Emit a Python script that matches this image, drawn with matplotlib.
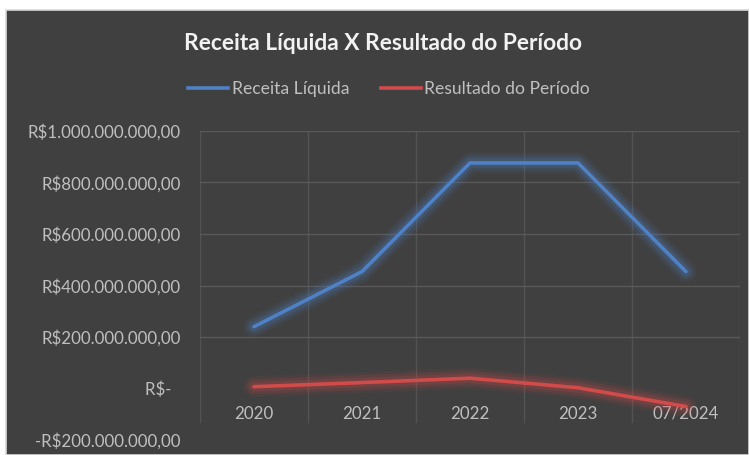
import matplotlib
matplotlib.use("Agg")
import matplotlib.pyplot as plt
from matplotlib.patches import Rectangle
from matplotlib.lines import Line2D
import numpy as np

categories = ["2020", "2021", "2022", "2023", "07/2024"]
receita_liquida = [240e6, 454e6, 876e6, 876e6, 454e6]
resultado_periodo = [7e6, 23e6, 40e6, 3e6, -70e6]
y_ticks = [-200e6, 0, 200e6, 400e6, 600e6, 800e6, 1000e6]
y_tick_labels = ["-R$200.000.000,00", "R$-  ", "R$200.000.000,00", "R$400.000.000,00",
                 "R$600.000.000,00", "R$800.000.000,00", "R$1.000.000.000,00"]
series_names = ["Receita Líquida", "Resultado do Período"]

plt.rcParams['font.family'] = ['Lato', 'DejaVu Sans']

BG = "#404040"
GRID = "#595959"
TXT = "#BFBFBF"
BLUE = "#4F81C7"
RED = "#D24B4B"

W, H = 749, 455
fig = plt.figure(figsize=(W / 100, H / 100), dpi=100)
fig.patch.set_facecolor("white")
fig.add_artist(Rectangle((6 / W, 0), (W - 6) / W, (H - 10) / H, transform=fig.transFigure,
                         facecolor=BG, edgecolor="#D9D9D9", linewidth=1.2, zorder=0))

ax = fig.add_axes([200 / W, 1 - 440 / H, 540 / W, (440 - 131) / H])
ax.set_facecolor("none")
x = np.arange(len(categories))
ax.set_xlim(-0.5, len(categories) - 0.5)
ax.set_ylim(-200e6, 1000e6)

# gridlines
for yv in y_ticks:
    if yv >= 200e6:
        ax.axhline(yv, color=GRID, lw=1.0, zorder=1)
for xb in np.arange(-0.5, len(categories), 1.0):
    ax.plot([xb, xb], [-130e6, 1000e6], color=GRID, lw=1.0, zorder=1, alpha=0.8)

for vals, col in [(receita_liquida, BLUE), (resultado_periodo, RED)]:
    for lw, a in [(15, 0.08), (11, 0.12), (7, 0.18)]:
        ax.plot(x, vals, color=col, lw=lw, alpha=a, solid_capstyle="round",
                solid_joinstyle="round", zorder=2)
    ax.plot(x, vals, color=col, lw=2.6, solid_capstyle="round", zorder=3)

for s in ax.spines.values():
    s.set_visible(False)
ax.spines['bottom'].set_position(('data', 0))
ax.set_xticks(x)
ax.set_xticklabels(categories, color=TXT, fontsize=12.2)
ax.tick_params(axis='x', length=0, pad=12.5)
ax.set_yticks(y_ticks)
ax.set_yticklabels(y_tick_labels, color=TXT, fontsize=12.2)
ax.tick_params(axis='y', length=0, pad=14)

fig.text(383 / W, 1 - 44 / H, "Receita Líquida X Resultado do Período", ha="center", va="center",
         fontsize=16.4, fontweight="bold", color="#F2F2F2")

handles = [Line2D([], [], color=BLUE, lw=2.6), Line2D([], [], color=RED, lw=2.6)]
fig.legend(handles, series_names, loc="center", bbox_to_anchor=(389 / W, 1 - 89 / H), ncol=2,
           frameon=False, fontsize=12.6, labelcolor=TXT, handlelength=2.3, handletextpad=0.2,
           columnspacing=1.8)

fig.savefig("out.png", dpi=100, facecolor=fig.get_facecolor())
